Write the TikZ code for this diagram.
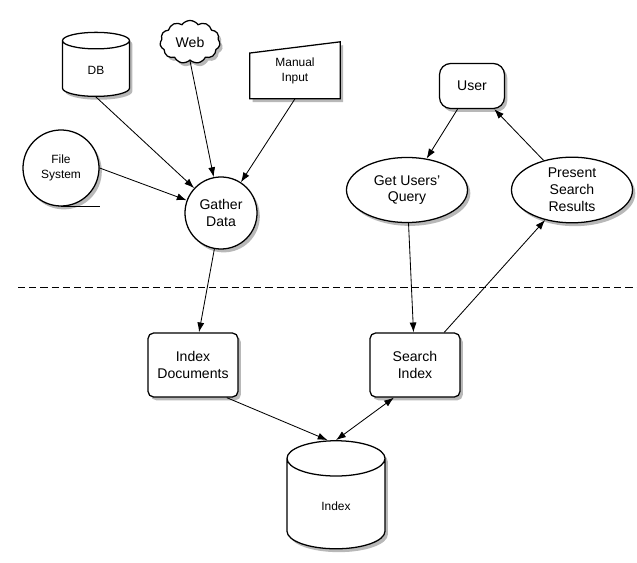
\documentclass[tikz,border=0pt]{standalone}
\usepackage{fontspec}
\setmainfont{Liberation Sans}
\usetikzlibrary{shapes.geometric,shapes.symbols,shadows,arrows.meta,backgrounds}

\newcommand{\lblfont}{\fontsize{10}{12}\selectfont}
\newcommand{\smlfont}{\fontsize{8.5}{10.5}\selectfont}

\tikzset{
  shade/.style={drop shadow={shadow xshift=2pt, shadow yshift=-2.4pt, fill=black!35, opacity=0.8}},
  base/.style={draw, line width=0.9pt, fill=white, align=center, inner sep=1pt, shade},
  procbox/.style={base, rounded corners=4pt, minimum width=2.25cm, minimum height=1.6cm, font=\lblfont},
  ellip/.style={base, ellipse, minimum width=3.025cm, minimum height=1.625cm, font=\lblfont},
  storage/.style={base, cylinder, shape border rotate=90, font=\smlfont},
  link/.style={-{Latex[length=7pt,width=5pt]}, line width=0.6pt},
}

\begin{document}
\begin{tikzpicture}[x=0.025cm, y=-0.025cm]
    \useasboundingbox (0,0) rectangle (637,563);

    % Data sources
    \node[storage, aspect=0.85, minimum width=1.675cm, minimum height=1.6cm] (db) at (96,70) {DB};
    \node[base, cloud, cloud puffs=11, cloud puff arc=110, aspect=1.4, minimum width=1.5cm, minimum height=1.075cm, inner sep=0pt, font=\lblfont] (web) at (190,42) {Web};
    \node[align=center, minimum width=2.25cm, minimum height=1.375cm, font=\smlfont] (manual) at (295,71) {Manual\\Input};
    \begin{scope}[on background layer]
        \path[base] (manual.south west) -- (manual.south east) -- ([yshift=1pt]manual.north east) -- ([yshift=-7pt]manual.north west) -- cycle;
    \end{scope}
    \node[base, circle, minimum size=1.9cm, font=\smlfont] (fsys) at (61,168) {File\\System};
    \draw[line width=0.9pt] (fsys.south) -- ++(28pt,0); % tape line

    % Gathering
    \node[base, circle, minimum size=1.8cm, font=\lblfont] (gather) at (221,213) {Gather\\Data};

    % User side
    \node[base, rounded corners=8pt, minimum width=1.625cm, minimum height=1.125cm, font=\lblfont] (user) at (472,86) {User};
    \node[ellip] (query) at (407,190) {Get Users'\\Query};
    \node[ellip] (present) at (572,190) {Present\\Search\\Results};

    % Separator
    \draw[dashed, line width=0.7pt, dash pattern=on 5pt off 3pt] (18,287) -- (637,287);

    % Indexing
    \node[procbox] (idoc) at (193,365) {Index\\Documents};
    \node[procbox] (search) at (415,365) {Search\\Index};
    \node[storage, aspect=1.1, minimum width=2.45cm, minimum height=2.7cm] (index) at (336,506) {Index};

    % Connectors
    \draw[link] (db.south) -- (gather);
    \draw[link] (web.south) -- (gather);
    \draw[link] (manual.south) -- (gather);
    \draw[link] (fsys.east) -- (gather);
    \draw[link] (gather) -- (idoc);
    \draw[link] (user) -- (query);
    \draw[link] (present) -- (user);
    \draw[link] (query) -- (search);
    \draw[link] (search) -- (present);
    \draw[link] ([xshift=24pt]idoc.south) -- ([xshift=-6pt]index.north);
    \draw[link, {Latex[length=7pt,width=5pt]}-{Latex[length=7pt,width=5pt]}] ([xshift=-15pt]search.south) -- (index.north);

\end{tikzpicture}
\end{document}
